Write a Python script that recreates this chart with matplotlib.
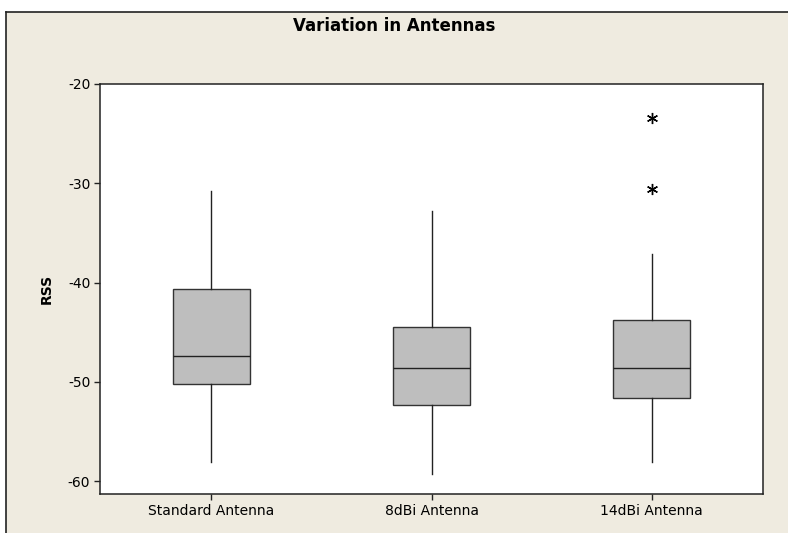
import matplotlib.pyplot as plt
import matplotlib.patches as mpatches
from matplotlib.lines import Line2D

# Box summary for each antenna (RSS, dBm)
antennas = ['Standard Antenna', '8dBi Antenna', '14dBi Antenna']
whisker_low = [-58.1, -59.3, -58.1]
q1 = [-50.2, -52.3, -51.6]
median = [-47.4, -48.6, -48.6]
q3 = [-40.7, -44.5, -43.8]
whisker_high = [-30.8, -32.8, -37.1]
outliers = [[], [], [-23.4, -30.6]]

stats = []
for i, name in enumerate(antennas):
    stats.append({'label': name, 'whislo': whisker_low[i], 'q1': q1[i],
                  'med': median[i], 'q3': q3[i], 'whishi': whisker_high[i],
                  'fliers': outliers[i]})

bg = '#EFEBE0'
fig = plt.figure(figsize=(7.88, 5.33), dpi=100, facecolor='white')

# beige panel with a dark frame on the top and left
fig.patches.append(mpatches.Rectangle((6 / 788, 0), 1, 1 - 12 / 533,
                                      transform=fig.transFigure, facecolor=bg,
                                      edgecolor='none', zorder=-2))
fig.lines.append(Line2D([6 / 788, 6 / 788], [0, 1 - 12 / 533], transform=fig.transFigure,
                        color='#222222', lw=1.2))
fig.lines.append(Line2D([6 / 788, 1], [1 - 12 / 533, 1 - 12 / 533], transform=fig.transFigure,
                        color='#222222', lw=1.2))

ax = fig.add_axes([100 / 788, 1 - 494 / 533, 663 / 788, 410 / 533])
ax.set_facecolor('white')

ax.bxp(stats, positions=[1, 2, 3], widths=0.35, patch_artist=True, showcaps=False,
       boxprops=dict(facecolor='#BEBEBE', edgecolor='#333333', linewidth=1.0),
       medianprops=dict(color='#222222', linewidth=1.0),
       whiskerprops=dict(color='#222222', linewidth=1.0),
       flierprops=dict(marker=(6, 2, 0), markersize=8, markeredgecolor='black',
                       markeredgewidth=1.0, linestyle='none'))

ax.set_xlim(0.495, 3.505)
ax.set_ylim(-61.3, -20)
ax.set_yticks([-20, -30, -40, -50, -60])
ax.set_yticklabels(['-20', '-30', '-40', '-50', '-60'])
ax.set_xticks([1, 2, 3])
ax.set_xticklabels(antennas)
ax.tick_params(direction='out', length=4, width=1, labelsize=10, color='#222222', pad=3)
for s in ax.spines.values():
    s.set_linewidth(1.1)
    s.set_color('#222222')

ax.set_ylabel('RSS', fontsize=10, fontweight='bold', labelpad=10)
fig.text(0.5, 1 - 26 / 533, 'Variation in Antennas', ha='center', va='center',
         fontsize=12, fontweight='bold')

fig.savefig('out.png', dpi=100, facecolor=fig.get_facecolor())
